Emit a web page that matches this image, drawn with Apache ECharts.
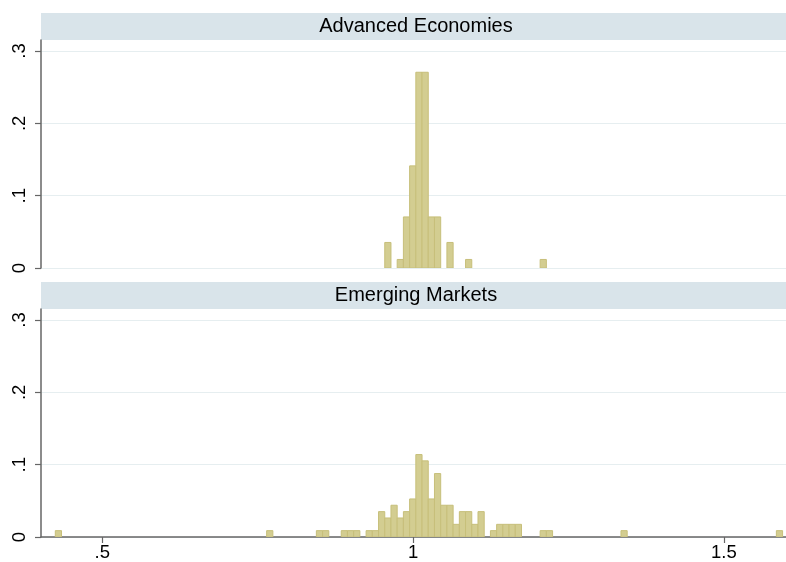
<!DOCTYPE html>
<html>
<head>
<meta charset="utf-8">
<script src="https://cdn.jsdelivr.net/npm/echarts@6/dist/echarts.min.js"></script>
<style>
  html, body { margin: 0; padding: 0; background: #fff; }
  #main { width: 786px; height: 562px; }
</style>
</head>
<body>
<div id="main"></div>
<script>
// histogram bins: left edge of each bin, fraction of observations
var binWidth = 0.01;

var panelTitles = ["Advanced Economies", "Emerging Markets"];

var advStart = [0.9545, 0.9745, 0.9845, 0.9945, 1.0045, 1.0145, 1.0245, 1.0345, 1.0545, 1.0845, 1.2045];
var advFrac  = [0.0353, 0.0118, 0.0706, 0.1412, 0.2706, 0.2706, 0.0706, 0.0706, 0.0353, 0.0118, 0.0118];

var emStart = [0.4245, 0.7645, 0.8445, 0.8545, 0.8845, 0.8945, 0.9045, 0.9245, 0.9345,
               0.9445, 0.9545, 0.9645, 0.9745, 0.9845, 0.9945, 1.0045, 1.0145, 1.0245,
               1.0345, 1.0445, 1.0545, 1.0645, 1.0745, 1.0845, 1.0945, 1.1045, 1.1245,
               1.1345, 1.1445, 1.1545, 1.1645, 1.2045, 1.2145, 1.3345, 1.5845];
var emFrac  = [0.0088, 0.0088, 0.0088, 0.0088, 0.0088, 0.0088, 0.0088, 0.0088, 0.0088,
               0.0351, 0.0263, 0.0439, 0.0263, 0.0351, 0.0526, 0.1140, 0.1053, 0.0526,
               0.0877, 0.0439, 0.0439, 0.0175, 0.0351, 0.0351, 0.0175, 0.0351, 0.0088,
               0.0175, 0.0175, 0.0175, 0.0175, 0.0088, 0.0088, 0.0088, 0.0088];

var xTicks = [0.5, 1, 1.5];
var yTicks = [0, 0.1, 0.2, 0.3];

var xMin = 0.4015, xMax = 1.6;
var yMax = 0.3152;

var font = "Liberation Sans, Arial, sans-serif";
var barFill = "#d3cd91";
var barEdge = "#c7bf7a";
var gridColor = "#e6eef0";
var axisColor = "#666666";

function stataNum(v) {
  var s = String(Math.round(v * 10) / 10);
  return s.replace(/^0\./, ".");
}

function toBins(starts, fracs) {
  return starts.map(function (s, i) { return [s, s + binWidth, fracs[i]]; });
}

function renderBar(params, api) {
  var p0 = api.coord([api.value(0), api.value(2)]);
  var p1 = api.coord([api.value(1), 0]);
  return {
    type: "rect",
    shape: { x: p0[0], y: p0[1], width: p1[0] - p0[0], height: p1[1] - p0[1] },
    style: { fill: barFill, stroke: barEdge, lineWidth: 1 }
  };
}

var grids = [
  { left: 41, right: 0, top: 40, height: 228 },
  { left: 41, right: 0, top: 309, height: 228 }
];

function yAxisFor(i) {
  return {
    type: "value", gridIndex: i, min: 0, max: yMax, interval: 0.1,
    axisLine: { show: true, lineStyle: { color: axisColor, width: 1.5 } },
    axisTick: { show: true, length: 6, customValues: yTicks, lineStyle: { color: axisColor, width: 1.2 } },
    axisLabel: {
      customValues: yTicks, rotate: 90, margin: 12,
      fontFamily: font, fontSize: 18.5, color: "#000",
      formatter: stataNum
    },
    splitLine: { show: true, lineStyle: { color: gridColor, width: 1.2 } }
  };
}

function titleBar(i, text) {
  var top = i === 0 ? 13 : 282;
  return [
    { type: "rect", left: 41, top: top, shape: { width: 745, height: 27 }, style: { fill: "#d9e4ea" }, silent: true },
    { type: "text", x: 416, y: top + 13.5, style: {
        text: text, fontFamily: font, fontSize: 20, fill: "#000",
        textAlign: "center", textVerticalAlign: "middle" } }
  ];
}

var chart = echarts.init(document.getElementById("main"), null, { renderer: "canvas" });

chart.setOption({
  animation: false,
  backgroundColor: "#fff",
  grid: grids,
  xAxis: [
    { type: "value", gridIndex: 0, min: xMin, max: xMax, show: false, splitLine: { show: false } },
    {
      type: "value", gridIndex: 1, min: xMin, max: xMax,
      axisLine: { show: true, onZero: false, lineStyle: { color: axisColor, width: 1.5 } },
      axisTick: { show: true, length: 6, customValues: xTicks, lineStyle: { color: axisColor, width: 1.2 } },
      axisLabel: {
        customValues: xTicks, margin: 6,
        fontFamily: font, fontSize: 18.5, color: "#000",
        formatter: function (v) { return String(v).replace(/^0\./, "."); }
      },
      splitLine: { show: false }
    }
  ],
  yAxis: [yAxisFor(0), yAxisFor(1)],
  graphic: titleBar(0, panelTitles[0]).concat(titleBar(1, panelTitles[1])),
  series: [
    { name: panelTitles[0], type: "custom", xAxisIndex: 0, yAxisIndex: 0,
      renderItem: renderBar, data: toBins(advStart, advFrac), clip: true },
    { name: panelTitles[1], type: "custom", xAxisIndex: 1, yAxisIndex: 1,
      renderItem: renderBar, data: toBins(emStart, emFrac), clip: true }
  ]
});
</script>
</body>
</html>
